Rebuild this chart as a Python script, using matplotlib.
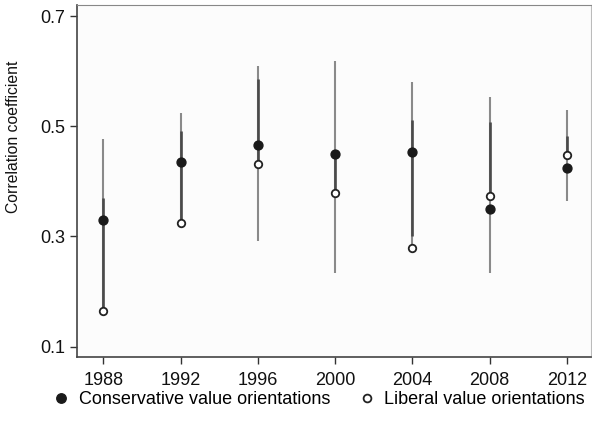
import matplotlib
matplotlib.use("Agg")
import matplotlib.pyplot as plt
from matplotlib.lines import Line2D

plt.rcParams["font.family"] = ["Liberation Sans", "DejaVu Sans"]

years = [1988, 1992, 1996, 2000, 2004, 2008, 2012]
conservative = [0.330, 0.436, 0.466, 0.449, 0.453, 0.349, 0.424]
liberal = [0.164, 0.324, 0.431, 0.378, 0.279, 0.373, 0.447]

# full spike range (light) and overlapping part (dark)
range_high = [0.476, 0.524, 0.609, 0.619, 0.581, 0.553, 0.530]
range_low = [0.164, 0.324, 0.291, 0.233, 0.279, 0.233, 0.365]
dark_high = [0.369, 0.492, 0.585, 0.449, 0.512, 0.508, 0.482]
dark_low = [0.164, 0.324, 0.431, 0.378, 0.300, 0.373, 0.447]

fig = plt.figure(figsize=(5.92, 4.25), dpi=100)
ax = fig.add_axes([0.130, 0.160, 0.868, 0.828])
ax.set_facecolor("#fcfcfc")

ax.vlines(years, range_low, range_high, color="#8a8a8a", linewidth=1.5, zorder=2)
ax.vlines(years, dark_low, dark_high, color="#4a4a4a", linewidth=1.9, zorder=3)

ax.plot(years, conservative, linestyle="none", marker="o", markersize=6.4,
        markerfacecolor="#1a1a1a", markeredgecolor="#1a1a1a", zorder=4)
ax.plot(years, liberal, linestyle="none", marker="o", markersize=5.4,
        markerfacecolor="white", markeredgecolor="#222222", markeredgewidth=1.3, zorder=5)

ax.set_xlim(1986.64, 2013.23)
ax.set_ylim(0.081, 0.720)
ax.set_xticks(years)
ax.set_yticks([0.1, 0.3, 0.5, 0.7])
ax.set_yticklabels(["0.1", "0.3", "0.5", "0.7"])
ax.tick_params(axis="both", direction="out", length=5, width=1, colors="#333333",
               labelsize=13, labelcolor="#111111")
ax.tick_params(axis="x", pad=5.5)
ax.set_ylabel("Correlation coefficient", fontsize=11.3, color="#111111")
ax.yaxis.set_label_coords(-0.108, 0.625)

ax.spines["left"].set_color("#444444")
ax.spines["bottom"].set_color("#444444")
ax.spines["left"].set_linewidth(1.2)
ax.spines["bottom"].set_linewidth(1.2)
ax.spines["top"].set_color("#888888")
ax.spines["right"].set_color("#bbbbbb")

handles = [
    Line2D([], [], linestyle="none", marker="o", markersize=6.8,
           markerfacecolor="#1a1a1a", markeredgecolor="#1a1a1a"),
    Line2D([], [], linestyle="none", marker="o", markersize=5.6,
           markerfacecolor="white", markeredgecolor="#222222", markeredgewidth=1.3),
]
fig.legend(handles, ["Conservative value orientations", "Liberal value orientations"],
           loc="center", bbox_to_anchor=(0.538, 0.060), ncol=2, frameon=False,
           fontsize=13, handletextpad=0.45, columnspacing=1.55, handlelength=1.0,
           borderpad=0, borderaxespad=0)

fig.savefig("out.png", dpi=100)
plt.close(fig)
